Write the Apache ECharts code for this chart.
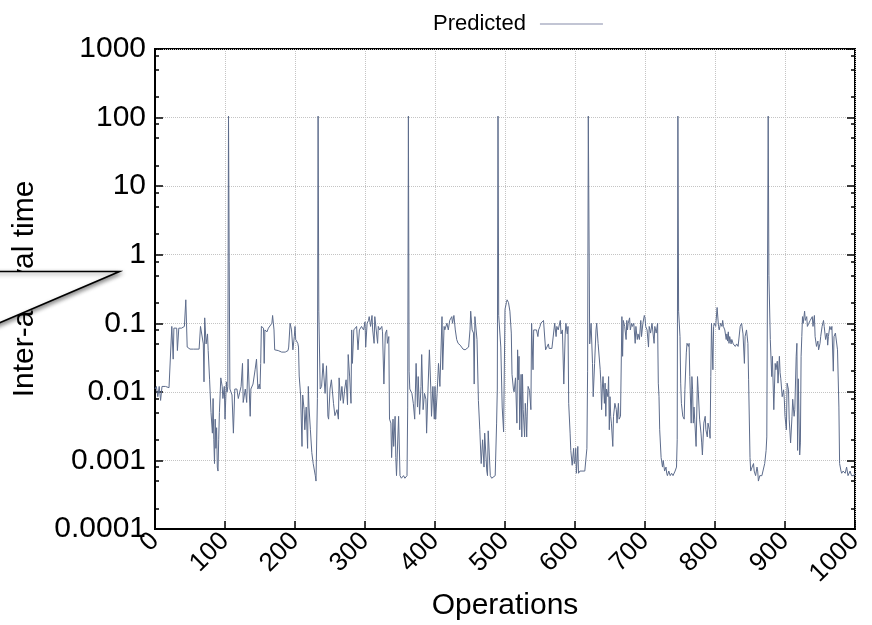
<!DOCTYPE html>
<html>
<head>
<meta charset="utf-8">
<script src="https://cdn.jsdelivr.net/npm/echarts@6/dist/echarts.min.js"></script>
<style>
html,body{margin:0;padding:0;background:#fff;}
#chart{width:872px;height:625px;}
</style>
</head>
<body>
<div id="chart"></div>
<script>
// Operation index (x) for each sample
const ops = [
0,2,4,6,8,10,15,20,22,24,25,26,27,29,31,32,34,36,38,40,42,44,45,46,50,55,60,63,65,67,69,70,71,73,75,76,78,80,82,83,84,85,86,87,88,89,90,91,92,94,96,97,99,100,102,103,104,105,106,107,110,112,114,117,119,121,123,125,126,129,131,133,136,137,140,143,145,147,149,150,151,152,155,156,157,160,162,164,167,168,170,171,176,181,186,190,191,193,195,197,199,200,201,204,205,206,208,210,211,213,214,216,218,219,220,222,224,226,229,230,232,233,234,236,238,240,243,245,247,248,250,
252,255,257,260,262,263,265,267,269,271,273,275,276,278,280,281,282,284,286,288,290,292,294,295,298,300,301,303,305,306,308,310,311,313,314,316,318,319,321,324,325,327,329,331,332,334,335,337,338,340,341,343,344,345,348,350,352,355,357,360,361,362,363,364,367,369,371,373,375,376,378,380,381,383,385,387,388,390,392,394,395,397,399,400,401,403,405,407,410,411,413,414,417,419,421,424,425,427,429,431,433,436,438,440,443,445,448,450,451,453,455,456,457,459,460,462,464,466,468,470,471,474,475,476,479,481,483,486,488,489,490,
491,492,494,496,498,500,502,503,505,507,509,510,512,513,515,517,518,519,520,521,523,524,525,526,528,529,530,531,532,533,535,537,538,540,541,543,545,547,548,550,551,553,555,556,558,560,562,563,565,567,569,571,573,574,576,579,580,582,584,586,587,589,590,591,593,594,596,598,599,600,601,602,604,605,607,610,612,614,617,618,619,
621,623,625,626,628,630,631,632,633,636,637,638,639,640,642,643,644,645,647,648,649,650,651,652,654,655,657,659,660,662,663,665,667,668,669,671,673,674,675,676,678,679,681,682,684,686,687,689,690,692,694,695,697,699,700,701,703,705,706,708,710,711,713,714,716,718,719,720,721,723,725,726,728,730,731,732,734,736,738,740,743,745,746,747,
748,750,751,752,754,756,757,759,760,762,763,764,766,767,768,769,770,771,773,775,776,778,780,781,782,784,786,787,789,790,792,793,794,795,797,798,799,801,803,805,806,808,810,811,812,814,816,817,818,819,820,821,823,824,826,828,829,831,833,836,838,840,842,843,845,847,848,850,851,853,855,856,858,860,861,862,864,867,869,871,873,874,876,
877,879,881,882,884,886,887,889,890,892,893,894,896,898,899,900,902,903,905,906,908,910,911,913,914,916,917,918,919,921,922,923,924,925,926,928,929,931,932,934,936,937,939,940,942,943,945,947,948,950,951,953,955,956,958,960,961,962,964,966,967,969,970,972,974,975,977,978,980,981,983,986,988,990,993,995,998,1000
];
// Predicted inter-arrival time at each operation
const predicted = [
0.011,0.012,0.0085,0.012,0.0075,0.012,0.012,0.0115,0.011,0.09,0.085,0.03,0.085,0.09,0.085,0.04,0.085,0.08,0.085,0.08,0.09,0.22,0.1,0.045,0.042,0.042,0.042,0.042,0.09,0.085,0.05,0.014,0.12,0.05,0.07,0.04,0.015,0.005,0.0025,0.008,0.002,0.0009,0.004,0.0015,0.003,0.0008,0.0007,0.002,0.005,0.016,0.012,0.008,0.012,0.004,0.014,0.01,0.012,105,0.8,0.011,0.009,0.0025,0.011,0.011,0.008,0.0075,0.012,0.026,0.007,0.011,0.007,0.03,0.0044,0.011,0.013,0.021,0.03,0.011,0.013,0.011,0.026,0.09,0.085,0.026,0.08,0.075,0.085,0.08,0.1,0.13,0.08,0.041,0.04,0.038,0.038,0.04,0.045,0.1,0.08,0.041,0.064,0.09,0.058,0.051,0.045,0.017,0.009,0.0016,0.009,0.0055,0.0028,0.006,0.0015,0.012,0.006,0.0028,0.0013,0.0009,0.0006,0.0005,0.008,105,0.15,0.011,0.012,0.026,0.0095,0.024,0.0044,0.004,0.011,
0.015,0.0068,0.0045,0.0055,0.004,0.016,0.0075,0.012,0.0068,0.011,0.015,0.0065,0.035,0.017,0.0068,0.08,0.026,0.08,0.075,0.09,0.041,0.08,0.075,0.09,0.08,0.105,0.045,0.1,0.11,0.125,0.09,0.13,0.08,0.051,0.125,0.13,0.051,0.09,0.08,0.09,0.075,0.013,0.07,0.08,0.051,0.064,0.004,0.0035,0.0011,0.004,0.0016,0.0044,0.0011,0.0006,0.0044,0.0006,0.00055,0.0006,0.00055,0.0006,0.006,105,0.02,0.011,0.0095,0.0068,0.004,0.026,0.006,0.0167,0.0047,0.012,0.035,0.0055,0.0095,0.0078,0.0025,0.011,0.041,0.011,0.0044,0.012,0.004,0.012,0.004,0.0095,0.026,0.012,0.125,0.021,0.09,0.08,0.1,0.08,0.11,0.125,0.1,0.13,0.08,0.058,0.051,0.048,0.045,0.042,0.041,0.041,0.045,0.08,0.15,0.08,0.072,0.013,0.125,0.13,0.058,0.0075,0.0028,0.0009,0.002,0.0008,0.0025,0.0007,0.0006,0.0027,0.0006,0.00055,0.00055,0.0006,0.0035,0.011,105,
0.13,0.13,0.045,0.006,0.0026,0.16,0.2,0.22,0.2,0.15,0.072,0.018,0.011,0.01,0.016,0.0035,0.041,0.015,0.033,0.0028,0.018,0.0022,0.018,0.0055,0.0022,0.0068,0.0044,0.0022,0.006,0.012,0.0105,0.0055,0.1,0.021,0.08,0.075,0.08,0.064,0.08,0.09,0.1,0.1,0.11,0.105,0.041,0.04,0.05,0.043,0.044,0.043,0.045,0.1,0.064,0.09,0.08,0.11,0.07,0.08,0.013,0.07,0.1,0.07,0.09,0.0068,0.0025,0.0014,0.00085,0.0015,0.0009,0.001,0.0015,0.00065,0.0016,0.00065,0.0007,0.0007,0.0007,0.0007,0.0015,0.02,105,
0.05,0.1,0.026,0.0085,0.026,0.08,0.1,0.1,0.051,0.021,0.0134,0.0055,0.011,0.0167,0.0068,0.0134,0.0044,0.011,0.0085,0.0167,0.0028,0.0085,0.0044,0.0035,0.0016,0.0044,0.0068,0.0055,0.0035,0.0068,0.004,0.0044,0.125,0.033,0.11,0.09,0.058,0.11,0.08,0.1,0.12,0.08,0.1,0.09,0.1,0.051,0.09,0.058,0.07,0.058,0.11,0.064,0.1,0.13,0.12,0.09,0.08,0.045,0.09,0.072,0.1,0.08,0.051,0.09,0.072,0.1,0.0134,0.0085,0.0028,0.0011,0.0008,0.001,0.0007,0.0008,0.00065,0.0006,0.0007,0.0006,0.00065,0.0006,0.0007,0.0008,0.002,105,
0.15,0.064,0.0134,0.0068,0.0044,0.004,0.0107,0.037,0.051,0.046,0.051,0.0167,0.0035,0.0167,0.0107,0.0035,0.006,0.004,0.0016,0.0167,0.0107,0.004,0.0025,0.0018,0.0012,0.0035,0.0044,0.0028,0.0022,0.0035,0.0028,0.0021,0.0167,0.1,0.021,0.09,0.1,0.09,0.17,0.09,0.08,0.1,0.09,0.11,0.09,0.08,0.058,0.07,0.055,0.075,0.051,0.064,0.05,0.058,0.05,0.051,0.046,0.05,0.046,0.09,0.1,0.07,0.026,0.064,0.08,0.051,0.015,0.0011,0.0007,0.0008,0.0009,0.0007,0.0006,0.0008,0.0007,0.0005,0.0006,0.0006,0.0006,0.0009,0.0014,0.0022,105,
0.5,0.058,0.0167,0.033,0.0055,0.026,0.021,0.028,0.0134,0.033,0.019,0.0155,0.0085,0.0107,0.0078,0.0044,0.0028,0.0134,0.0107,0.004,0.0018,0.0044,0.0078,0.0044,0.0055,0.033,0.051,0.0014,0.0155,0.0012,0.0018,0.033,0.064,0.125,0.1,0.15,0.11,0.125,0.09,0.1,0.11,0.105,0.125,0.09,0.13,0.064,0.046,0.055,0.041,0.051,0.064,0.09,0.11,0.09,0.058,0.072,0.048,0.064,0.09,0.08,0.09,0.02,0.064,0.072,0.075,0.041,0.006,0.0009,0.0007,0.00065,0.0007,0.00065,0.0008,0.0006,0.0007,0.0006,0.0006,0.00065
];
const xTicks = { min: 0, max: 1000, interval: 100 };
const yTickLabels = ['0.0001','0.001','0.01','0.1','1','10','100','1000'];
const yMinorTicks = [
0.0002,0.0005,0.0008,0.002,0.005,0.008,0.02,0.05,0.08,0.2,0.5,0.8,2,5,8,20,50,80,200,500,800
];
const seriesName = 'Predicted';
const xName = 'Operations';
const yName = 'Inter-arrival time';

const data = ops.map((x, i) => [x, predicted[i]]);
const minorLog = yMinorTicks.map(v => Math.log10(v));
const FONT = '"Liberation Sans", Arial, sans-serif';

const chart = echarts.init(document.getElementById('chart'), null, { renderer: 'canvas' });

function decoAxis(position, values, len) {
  return {
    type: 'value', min: -4, max: 3, interval: 1, position: position,
    axisLine: { show: false },
    axisLabel: { show: false },
    splitLine: { show: false },
    axisTick: { show: true, inside: true, length: len, customValues: values,
      lineStyle: { color: '#000', width: 1.5 } }
  };
}

chart.setOption({
  backgroundColor: '#fff',
  animation: false,
  grid: { left: 155, right: 17, top: 49, bottom: 96, show: true, borderColor: '#000', borderWidth: 2,
    containLabel: false, outerBoundsMode: 'none' },
  legend: {
    data: [{ name: seriesName, icon: 'rect' }], left: 428, top: 8, align: 'right',
    itemWidth: 63, itemHeight: 1.5,
    textStyle: { fontFamily: FONT, fontSize: 22, color: '#000', padding: [0, 9, 0, 0] },
    itemStyle: { color: '#aeb2c6' }
  },
  xAxis: {
    type: 'value', min: xTicks.min, max: xTicks.max, interval: xTicks.interval,
    name: xName, nameLocation: 'middle', nameGap: 62, nameMoveOverlap: false,
    nameTextStyle: { fontFamily: FONT, fontSize: 30, color: '#000' },
    axisLine: { show: true, onZero: false, lineStyle: { color: '#000', width: 2 } },
    axisTick: { show: true, inside: true, length: 8, lineStyle: { color: '#000', width: 1.5 } },
    axisLabel: { rotate: 45, fontFamily: FONT, fontSize: 26, color: '#000', margin: 8,
      formatter: v => String(v) },
    splitLine: { show: true, lineStyle: { type: 'dotted', color: '#c4c4c4', width: 1 } }
  },
  yAxis: [
    {
      type: 'log', logBase: 10, min: 0.0001, max: 1000, interval: 1, position: 'left',
      name: yName, nameLocation: 'middle', nameGap: 115, nameMoveOverlap: false,
      nameTextStyle: { fontFamily: FONT, fontSize: 30, color: '#000' },
      axisLine: { show: true, lineStyle: { color: '#000', width: 2 } },
      axisTick: { show: true, inside: true, length: 8, lineStyle: { color: '#000', width: 1.5 } },
      axisLabel: { fontFamily: FONT, fontSize: 30, color: '#000', margin: 9,
        formatter: v => yTickLabels[Math.round(Math.log10(v)) + 4] },
      splitLine: { show: true, lineStyle: { type: 'dotted', color: '#c4c4c4', width: 1 } }
    },
    decoAxis('left', minorLog, 4),
    {
      type: 'log', logBase: 10, min: 0.0001, max: 1000, interval: 1, position: 'right',
      axisLine: { show: false }, axisLabel: { show: false }, splitLine: { show: false },
      axisTick: { show: true, inside: true, length: 8, lineStyle: { color: '#000', width: 1.5 } }
    },
    decoAxis('right', minorLog, 4)
  ],
  series: [{
    name: seriesName, type: 'line', yAxisIndex: 0, data: data,
    symbol: 'none', smooth: false,
    lineStyle: { color: '#5d6c8c', width: 1 },
    itemStyle: { color: '#5d6c8c' }
  }],
  graphic: [{
    type: 'polygon', z: 100,
    shape: { points: [[-10, 271.5], [119.5, 271.5], [-10, 327]] },
    style: { fill: '#fff', stroke: '#000', lineWidth: 1.6,
      shadowBlur: 4, shadowOffsetX: 1, shadowOffsetY: 2, shadowColor: 'rgba(0,0,0,0.45)' }
  }]
});
</script>
</body>
</html>
